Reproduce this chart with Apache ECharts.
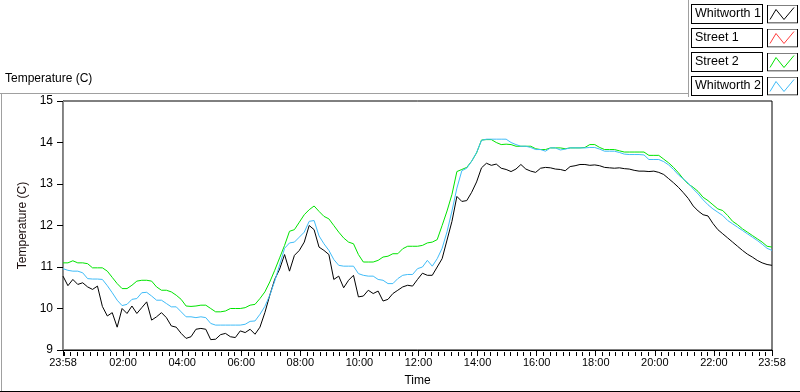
<!DOCTYPE html>
<html>
<head>
<meta charset="utf-8">
<script src="https://cdn.jsdelivr.net/npm/echarts@6/dist/echarts.min.js"></script>
<style>
  html, body { margin: 0; padding: 0; background: #fff; }
  #chart { width: 800px; height: 392px; }
</style>
</head>
<body>
<div id="chart"></div>
<script>
// samples every 10 min, starting 23:58
const sampleStepMin = 10
const seriesNames = ['Whitworth 1', 'Street 1', 'Street 2', 'Whitworth 2']
const seriesColors = ['#000000', '#ff3c3c', '#00e400', '#40bcf8']

const whitworth1 = [
  10.78, 10.55, 10.70, 10.58, 10.62, 10.52, 10.46, 10.54, 10.05, 9.82,
  9.90, 9.55, 10.00, 9.88, 10.06, 9.88, 10.02, 10.16, 9.72, 9.80,
  9.90, 9.78, 9.58, 9.55, 9.40, 9.28, 9.32, 9.50, 9.52, 9.50,
  9.25, 9.26, 9.37, 9.40, 9.32, 9.30, 9.46, 9.42, 9.50, 9.38,
  9.55, 9.90, 10.32, 10.70, 10.95, 11.30, 10.90, 11.28, 11.40, 11.60,
  12.00, 11.90, 11.48, 11.40, 11.30, 10.70, 10.78, 10.50, 10.68, 10.80,
  10.28, 10.30, 10.44, 10.36, 10.42, 10.18, 10.22, 10.36, 10.44, 10.52,
  10.56, 10.54, 10.70, 10.85, 10.80, 10.80, 11.00, 11.20, 11.65, 12.10,
  12.70, 12.58, 12.60, 12.80, 13.05, 13.39, 13.50, 13.45, 13.48, 13.38,
  13.35, 13.30, 13.36, 13.47, 13.36, 13.31, 13.28, 13.38, 13.40, 13.39,
  13.36, 13.35, 13.32, 13.42, 13.44, 13.47, 13.47, 13.45, 13.46, 13.44,
  13.40, 13.39, 13.38, 13.39, 13.37, 13.36, 13.33, 13.31, 13.31, 13.30,
  13.31, 13.28, 13.23, 13.13, 13.03, 12.92, 12.79, 12.65, 12.47, 12.35,
  12.26, 12.23, 12.05, 11.90, 11.80, 11.70, 11.60, 11.50, 11.40, 11.31,
  11.24, 11.16, 11.10, 11.06, 11.04
]
// Street 1 has no visible trace in the chart
const street1 = []
const street2 = [
  11.10, 11.10, 11.15, 11.10, 11.10, 11.08, 10.98, 10.98, 10.98, 10.90,
  10.75, 10.60, 10.48, 10.48, 10.56, 10.66, 10.68, 10.68, 10.66, 10.52,
  10.44, 10.44, 10.40, 10.32, 10.22, 10.06, 10.05, 10.06, 10.08, 10.08,
  10.00, 9.92, 9.92, 9.94, 10.00, 10.00, 10.00, 10.02, 10.08, 10.10,
  10.24, 10.40, 10.64, 10.92, 11.22, 11.52, 11.86, 11.90, 12.08, 12.26,
  12.38, 12.47, 12.34, 12.22, 12.16, 12.00, 11.84, 11.70, 11.60, 11.56,
  11.30, 11.12, 11.12, 11.12, 11.16, 11.24, 11.26, 11.32, 11.32, 11.44,
  11.50, 11.50, 11.50, 11.52, 11.58, 11.60, 11.66, 12.00, 12.35, 12.75,
  13.30, 13.35, 13.40, 13.55, 13.75, 14.06, 14.07, 14.07, 14.00, 13.95,
  13.96, 13.95, 13.91, 13.91, 13.91, 13.91, 13.85, 13.83, 13.83, 13.87,
  13.87, 13.87, 13.85, 13.87, 13.87, 13.87, 13.88, 13.95, 13.95, 13.88,
  13.83, 13.83, 13.83, 13.80, 13.77, 13.77, 13.77, 13.77, 13.77, 13.69,
  13.69, 13.69, 13.60, 13.51, 13.40, 13.27, 13.12, 13.00, 12.92, 12.82,
  12.68, 12.60, 12.50, 12.40, 12.36, 12.24, 12.10, 12.02, 11.92, 11.84,
  11.76, 11.68, 11.60, 11.50, 11.48
]
const whitworth2 = [
  10.96, 10.92, 10.90, 10.90, 10.86, 10.72, 10.71, 10.71, 10.70, 10.55,
  10.38, 10.20, 10.07, 10.10, 10.22, 10.24, 10.38, 10.39, 10.30, 10.20,
  10.20, 10.12, 10.04, 10.04, 9.92, 9.80, 9.80, 9.78, 9.80, 9.78,
  9.64, 9.60, 9.60, 9.60, 9.60, 9.60, 9.60, 9.62, 9.69, 9.70,
  9.86, 10.05, 10.32, 10.66, 11.05, 11.45, 11.58, 11.60, 11.72, 11.84,
  12.10, 12.12, 11.75, 11.56, 11.40, 11.18, 11.04, 11.02, 11.02, 11.02,
  10.84, 10.80, 10.78, 10.78, 10.70, 10.68, 10.60, 10.60, 10.72, 10.80,
  10.82, 10.82, 10.96, 11.00, 11.16, 11.02, 11.20, 11.45, 11.85, 12.35,
  12.90, 13.32, 13.38, 13.55, 13.76, 14.05, 14.08, 14.08, 14.08, 14.08,
  14.08, 14.00, 13.95, 13.91, 13.91, 13.88, 13.83, 13.83, 13.79, 13.87,
  13.87, 13.82, 13.84, 13.87, 13.87, 13.87, 13.87, 13.88, 13.88, 13.84,
  13.79, 13.79, 13.79, 13.76, 13.72, 13.71, 13.71, 13.71, 13.70, 13.59,
  13.59, 13.59, 13.54, 13.46, 13.35, 13.22, 13.12, 13.02, 12.88, 12.76,
  12.62, 12.50, 12.40, 12.32, 12.24, 12.12, 12.04, 11.96, 11.88, 11.80,
  11.72, 11.64, 11.55, 11.45, 11.40
]

// x axis: minutes after 23:58
const startClock = 23 * 60 + 58
const majorTicks = [0, 122, 242, 362, 482, 602, 722, 842, 962, 1082, 1202, 1322, 1440]

const chart = echarts.init(document.getElementById('chart'))
const font = 'Liberation Sans, Arial, sans-serif'

function clockLabel(v) {
  const t = Math.round(v + startClock) % 1440
  const h = Math.floor(t / 60), m = t % 60
  return String(h).padStart(2, '0') + ':' + String(m).padStart(2, '0')
}

// small ticks: 9 per 2 hour interval (major ones included)
const allTicks = [0]
for (let i = 0; i < majorTicks.length - 1; i++) {
  const a = majorTicks[i], b = majorTicks[i + 1]
  const step = 120 / 9
  const part = []
  for (let t = b - step; t > a + 2; t -= step) part.push(Math.round(t * 100) / 100)
  allTicks.push(...part.reverse(), b)
}

function legendIcon(color) {
  const svg = '<svg xmlns="http://www.w3.org/2000/svg" width="31" height="19">' +
    '<rect x="0.5" y="0.5" width="30" height="18" fill="#fff" stroke="#000"/>' +
    '<polyline points="3,15 9,5 17,15 27,3" fill="none" stroke="' + color + '" stroke-width="1"/></svg>'
  return 'image://data:image/svg+xml;charset=utf-8,' + encodeURIComponent(svg)
}

const times = whitworth1.map((_, i) => i * sampleStepMin)
const allData = [whitworth1, street1, street2, whitworth2]

chart.setOption({
  animation: false,
  backgroundColor: '#fff',
  title: {
    text: 'Temperature (C)',
    left: 5, top: 73, padding: 0,
    textStyle: { fontSize: 12, fontWeight: 'normal', color: '#000', fontFamily: font }
  },
  legend: {
    orient: 'vertical',
    right: 2, top: 4,
    itemGap: 4,
    align: 'right',
    padding: 0,
    itemWidth: 31, itemHeight: 19,
    data: seriesNames.map((n, i) => ({ name: n, icon: legendIcon(seriesColors[i]) })),
    formatter: n => '{t|' + n + '}',
    textStyle: {
      fontSize: 12.5, fontFamily: font, color: '#000',
      padding: [2, 3],
      borderColor: '#000', borderWidth: 1, backgroundColor: '#fff',
      rich: {
        t: { width: 64, align: 'left', lineHeight: 14, fontSize: 12.5, fontFamily: font, color: '#000' }
      }
    }
  },
  grid: { left: 63, right: 28, top: 101, bottom: 40, show: true, borderColor: '#000', borderWidth: 1 },
  xAxis: [
    {
      type: 'value', min: 0, max: 1440, position: 'bottom',
      name: 'Time', nameLocation: 'middle', nameGap: 25,
      nameTextStyle: { fontSize: 12, color: '#000', fontFamily: font },
      axisLine: { show: true, lineStyle: { color: '#000' } },
      axisTick: { show: true, length: 6, customValues: majorTicks, lineStyle: { color: '#000' } },
      axisLabel: { customValues: majorTicks, formatter: clockLabel, fontSize: 11, color: '#000', fontFamily: font, margin: 7 },
      splitLine: { show: false }
    },
    {
      // the small marks, drawn from an axis moved onto the bottom edge
      type: 'value', min: 0, max: 1440, position: 'top', offset: -251,
      axisLine: { show: false },
      axisTick: { show: true, inside: true, length: 4, customValues: allTicks, lineStyle: { color: '#000' } },
      axisLabel: { show: false },
      splitLine: { show: false }
    }
  ],
  yAxis: [
    {
      type: 'value', min: 9, max: 15, interval: 1,
      name: 'Temperature (C)', nameLocation: 'middle', nameGap: 30,
      nameTextStyle: { fontSize: 12, color: '#1a0d0d', fontFamily: font },
      axisLine: { show: true, lineStyle: { color: '#000' } },
      axisTick: { show: true, length: 6, lineStyle: { color: '#000' } },
      axisLabel: { fontSize: 12, color: '#000', fontFamily: font, margin: 10 },
      splitLine: { show: false }
    },
    {
      type: 'value', min: 9, max: 15, position: 'right',
      axisLine: { show: true, lineStyle: { color: '#8c8c8c' } },
      axisTick: { show: false }, axisLabel: { show: false }, splitLine: { show: false }
    }
  ],
  graphic: [
    { type: 'line', shape: { x1: 0, y1: 93.5, x2: 688, y2: 93.5 }, style: { stroke: '#a0a0a0', lineWidth: 1 } },
    { type: 'line', shape: { x1: 688.5, y1: 0, x2: 688.5, y2: 97 }, style: { stroke: '#a0a0a0', lineWidth: 1 } },
    { type: 'line', shape: { x1: 1.5, y1: 93, x2: 1.5, y2: 391 }, style: { stroke: '#a0a0a0', lineWidth: 1 } },
    { type: 'line', shape: { x1: 0, y1: 391.5, x2: 800, y2: 391.5 }, style: { stroke: '#000', lineWidth: 1 } }
  ],
  series: seriesNames.map((n, i) => ({
    name: n,
    type: 'line',
    xAxisIndex: 0,
    yAxisIndex: 0,
    symbol: 'none',
    color: seriesColors[i],
    lineStyle: { width: 1, color: seriesColors[i] },
    data: allData[i].map((v, j) => [times[j], v])
  }))
})
</script>
</body>
</html>
